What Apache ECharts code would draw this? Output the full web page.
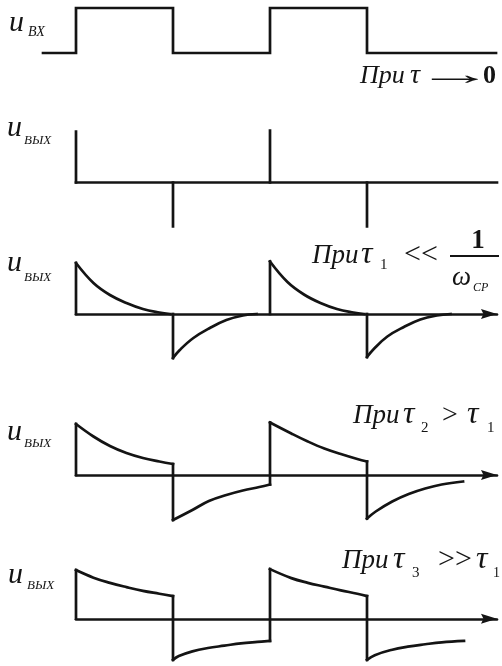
<!DOCTYPE html>
<html>
<head>
<meta charset="utf-8">
<script src="https://cdn.jsdelivr.net/npm/echarts@6/dist/echarts.min.js"></script>
<style>
  html, body { margin: 0; padding: 0; background: #fff; }
  #chart { width: 502px; height: 666px; }
</style>
</head>
<body>
<div id="chart"></div>
<script>
// Time is measured in half-periods of the input square wave (edges at 0, 1, 2, 3).
// Amplitudes are relative to the height of the output jump.

// Input square wave u_вх (level changes, drawn as steps)
const inputLevels = [[-0.34, 0], [0, 1], [1, 0], [2, 1], [3, 0], [4.33, 0]];

// Output for tau -> 0: needle pulses at each edge
const spikeTimes = [0, 1, 2, 3];
const spikeValues = [1.02, -0.88, 1.04, -0.88];
const spikeBaseEnd = 4.34;

// Output for tau1 << 1/w_cp: fast exponential decay after each edge
const tau1Pos1 = [[0, 1.02], [0.18, 0.62], [0.35, 0.38], [0.52, 0.22], [0.69, 0.10], [0.86, 0.03], [0.97, 0]];
const tau1Neg1 = [[1, -0.88], [1.07, -0.72], [1.21, -0.48], [1.38, -0.28], [1.55, -0.12], [1.72, -0.03], [1.86, 0]];
const tau1Pos2 = [[2, 1.05], [2.18, 0.64], [2.35, 0.39], [2.52, 0.22], [2.69, 0.10], [2.86, 0.03], [2.97, 0]];
const tau1Neg2 = [[3, -0.86], [3.07, -0.70], [3.21, -0.45], [3.38, -0.26], [3.55, -0.11], [3.72, -0.03], [3.86, 0]];

// Output for tau2 > tau1
const tau2Pos1 = [[0, 1.02], [0.18, 0.77], [0.35, 0.58], [0.52, 0.44], [0.69, 0.34], [0.86, 0.27], [1, 0.22]];
const tau2Neg1 = [[1, -0.90], [1.2, -0.70], [1.37, -0.52], [1.55, -0.40], [1.72, -0.31], [1.89, -0.24], [2, -0.19]];
const tau2Pos2 = [[2, 1.05], [2.22, 0.83], [2.39, 0.67], [2.56, 0.53], [2.73, 0.42], [2.9, 0.32], [3, 0.27]];
const tau2Neg2 = [[3, -0.87], [3.09, -0.73], [3.26, -0.53], [3.43, -0.38], [3.6, -0.27], [3.77, -0.19], [3.99, -0.13]];

// Output for tau3 >> tau1
const tau3Pos1 = [[0, 1.03], [0.18, 0.87], [0.35, 0.76], [0.52, 0.67], [0.69, 0.59], [0.86, 0.53], [1, 0.48]];
const tau3Neg1 = [[1, -0.87], [1.06, -0.79], [1.2, -0.69], [1.36, -0.62], [1.53, -0.57], [1.7, -0.52], [1.87, -0.49], [2, -0.47]];
const tau3Pos2 = [[2, 1.05], [2.22, 0.86], [2.39, 0.76], [2.56, 0.68], [2.73, 0.60], [2.9, 0.53], [3, 0.48]];
const tau3Neg2 = [[3, -0.87], [3.08, -0.77], [3.25, -0.66], [3.42, -0.59], [3.6, -0.54], [3.77, -0.50], [4, -0.47]];

const INK = '#141414';
const LW = 2.7;
const SERIF = '"Liberation Serif", "DejaVu Serif", serif';

// Plot areas, one per trace; 97 px per half-period, first edge at x = 76
const X_MAX = 4.34;
const gridTops = [8, 132.5, 264, 425, 571.5];
const gridHeights = [45, 100, 100, 100, 100];
const xMins = [-0.34, 0, 0, 0, 0];
const grids = gridTops.map((top, i) => ({
  left: 76 + xMins[i] * 97, width: (X_MAX - xMins[i]) * 97, top: top, height: gridHeights[i]
}));

const arrowAxis = {
  show: true, onZero: true,
  symbol: ['none', 'path://M5 0L10 16L5 13.5L0 16Z'],
  symbolSize: [10, 16], symbolOffset: [0, -8],
  lineStyle: { color: INK, width: LW }
};
const xAxes = grids.map((g, i) => ({
  type: 'value', gridIndex: i, min: xMins[i], max: X_MAX,
  show: i >= 2,
  axisLine: i >= 2 ? arrowAxis : { show: false },
  axisTick: { show: false }, axisLabel: { show: false }, splitLine: { show: false }
}));
const yAxes = grids.map((g, i) => ({
  type: 'value', gridIndex: i, min: i === 0 ? 0 : -1, max: 1, show: false, splitLine: { show: false }
}));

function lineSeries(data, gi, smooth, extra) {
  return Object.assign({
    type: 'line', xAxisIndex: gi, yAxisIndex: gi, data: data,
    smooth: smooth ? 0.4 : false, symbol: 'none', clip: false, silent: true,
    lineStyle: { color: INK, width: LW, cap: 'square', join: 'miter' }, z: 3
  }, extra || {});
}

const series = [];
// input wave
series.push(lineSeries(inputLevels, 0, false, { step: 'end' }));
// needle pulses
series.push(lineSeries([[0, 0], [spikeBaseEnd, 0]], 1, false));
spikeTimes.forEach((t, k) => series.push(lineSeries([[t, 0], [t, spikeValues[k]]], 1, false)));

// decaying traces: a vertical jump at each edge followed by the smooth decay
function addTrace(pulses, gi) {
  pulses.forEach((p, k) => {
    const t0 = p[0][0];
    let from = 0;
    if (k > 0) {
      const last = pulses[k - 1][pulses[k - 1].length - 1];
      if (Math.abs(last[0] - t0) < 1e-6) from = last[1];
    }
    series.push(lineSeries([[t0, from], p[0]], gi, false));
    series.push(lineSeries(p, gi, true));
  });
}
addTrace([tau1Pos1, tau1Neg1, tau1Pos2, tau1Neg2], 2);
addTrace([tau2Pos1, tau2Neg1, tau2Pos2, tau2Neg2], 3);
addTrace([tau3Pos1, tau3Neg1, tau3Pos2, tau3Neg2], 4);

// text pieces placed by left edge and baseline
function txt(text, x, baseline, size, opt) {
  opt = opt || {};
  const weight = opt.bold ? 'bold ' : '';
  const style = opt.upright ? '' : 'italic ';
  return {
    type: 'text', x: x, y: baseline - 0.34 * size, z: 10, silent: true,
    scaleX: opt.sx || 1,
    style: {
      text: text, fill: INK,
      font: style + weight + size + 'px ' + (opt.family || SERIF),
      align: opt.align || 'left', textAlign: opt.align || 'left',
      verticalAlign: 'middle', textVerticalAlign: 'middle'
    }
  };
}

const graphics = [
  // trace names
  txt('u', 9, 33, 30), txt('ВХ', 28, 37, 14),
  txt('u', 7, 138, 30), txt('ВЫХ', 24, 145, 13),
  txt('u', 7, 273, 30), txt('ВЫХ', 24, 282, 13),
  txt('u', 7, 442, 30), txt('ВЫХ', 24, 448, 13),
  txt('u', 8, 585, 30), txt('ВЫХ', 27, 590, 13),

  // При τ → 0
  txt('При', 360, 85, 26), txt('τ', 410, 85, 28),
  txt('→', 416, 86, 30, { upright: true, sx: 2.6 }),
  txt('0', 483, 85, 26, { bold: true, upright: true }),

  // При τ1 << 1/ω_ср
  txt('При', 312, 265, 27), txt('τ', 361, 265, 32), txt('1', 380, 270, 15, { upright: true }),
  txt('<<', 404, 265, 30, { upright: true }),
  txt('1', 478, 250, 27, { bold: true, upright: true, align: 'center' }),
  { type: 'line', z: 10, silent: true, shape: { x1: 450, y1: 256, x2: 499, y2: 256 }, style: { stroke: INK, lineWidth: 2 } },
  txt('ω', 452, 287, 27), txt('СР', 473, 292, 12),

  // При τ2 > τ1
  txt('При', 353, 425, 27), txt('τ', 403, 425, 32), txt('2', 421, 433, 15, { upright: true }),
  txt('>', 442, 425, 28, { upright: true }),
  txt('τ', 467, 425, 32), txt('1', 487, 433, 15, { upright: true }),

  // При τ3 >> τ1
  txt('При', 342, 570, 27), txt('τ', 393, 570, 32), txt('3', 412, 578, 15, { upright: true }),
  txt('>>', 438, 570, 30, { upright: true }),
  txt('τ', 476, 570, 32), txt('1', 493, 578, 14, { upright: true })
];

const chart = echarts.init(document.getElementById('chart'), null, { renderer: 'canvas' });
chart.setOption({
  backgroundColor: '#ffffff',
  animation: false,
  grid: grids,
  xAxis: xAxes,
  yAxis: yAxes,
  series: series,
  graphic: { elements: graphics }
});
</script>
</body>
</html>
